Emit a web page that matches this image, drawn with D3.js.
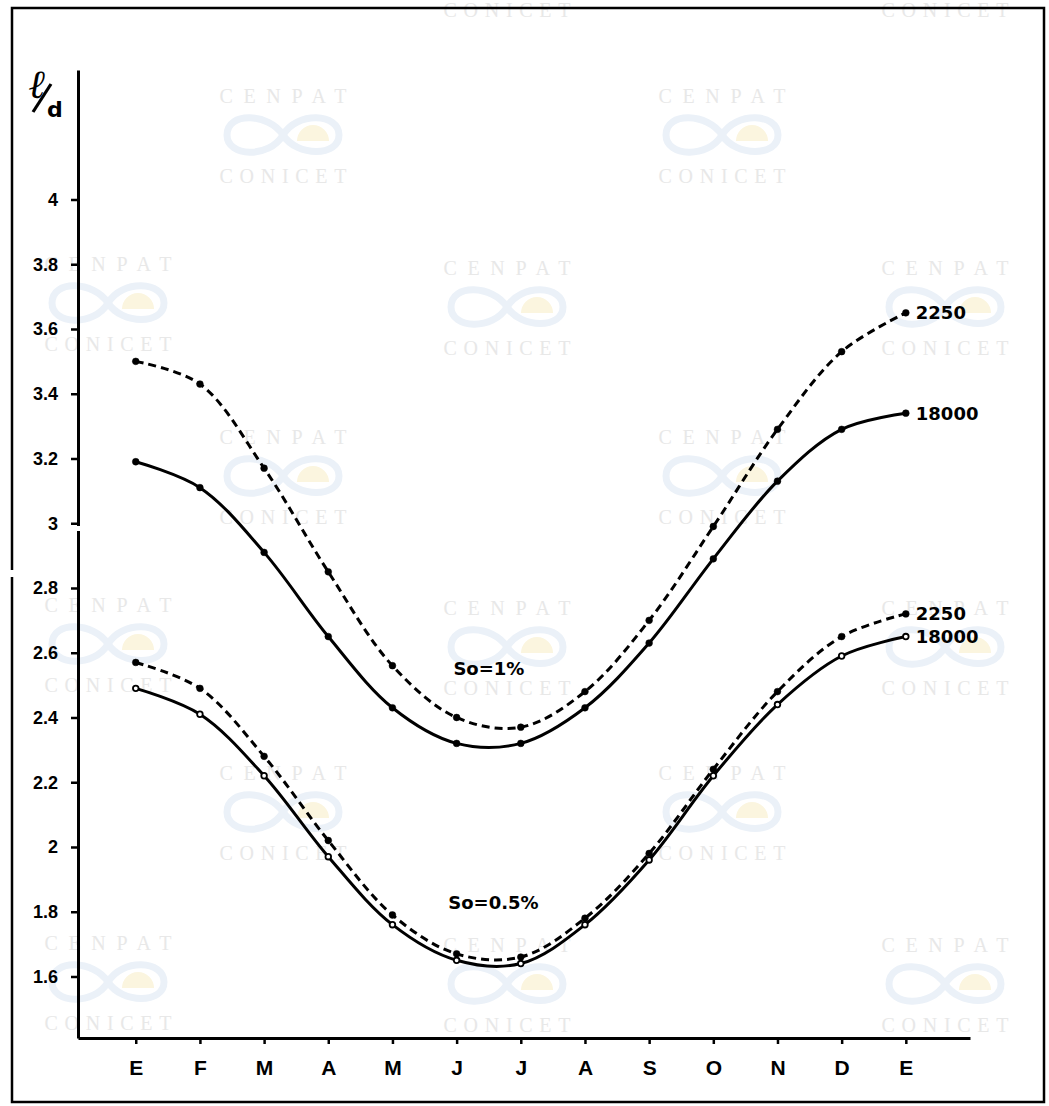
<!DOCTYPE html>
<html>
<head>
<meta charset="utf-8">
<script src="https://cdn.jsdelivr.net/npm/d3@7"></script>
<style>
  body { margin: 0; background: #fff; }
  svg { display: block; }
</style>
</head>
<body>
<div id="chart"></div>
<script>
// Months of the year (E = enero ... D = diciembre, back to E)
var months = ["E", "F", "M", "A", "M", "J", "J", "A", "S", "O", "N", "D", "E"];

// Y ticks and their printed labels
var yTicks = [1.6, 1.8, 2, 2.2, 2.4, 2.6, 2.8, 3, 3.2, 3.4, 3.6, 3.8, 4];
var yTickLabels = ["1.6", "1.8", "2", "2.2", "2.4", "2.6", "2.8", "3", "3.2", "3.4", "3.6", "3.8", "4"];

// So = 1%
var so1_2250 = [3.50, 3.43, 3.17, 2.85, 2.56, 2.40, 2.37, 2.48, 2.70, 2.99, 3.29, 3.53, 3.65];
var so1_18000 = [3.19, 3.11, 2.91, 2.65, 2.43, 2.32, 2.32, 2.43, 2.63, 2.89, 3.13, 3.29, 3.34];

// So = 0.5%
var so05_2250 = [2.57, 2.49, 2.28, 2.02, 1.79, 1.67, 1.66, 1.78, 1.98, 2.24, 2.48, 2.65, 2.72];
var so05_18000 = [2.49, 2.41, 2.22, 1.97, 1.76, 1.65, 1.64, 1.76, 1.96, 2.22, 2.44, 2.59, 2.65];

var seriesLabels = ["2250", "18000", "2250", "18000"];
var groupLabels = ["So=1%", "So=0.5%"];

var w = 1049, h = 1106;
var lettering = "'DejaVu Sans', 'Liberation Sans', sans-serif";

var svg = d3.select("#chart")
            .append("svg")
            .attr("width", w)
            .attr("height", h);

// Scales (month index on x, l/d on y)
var x = d3.scaleLinear().domain([-0.9, 13]).range([78, 970]);
var y = d3.scaleLinear().domain([1.41, 4.4]).range([1038, 70]);

// Faint scanner watermarks (CENPAT / CONICET)
var marks = [[507, -70], [945, -70], [283, 96], [722, 96], [108, 264], [507, 268], [945, 268],
             [283, 437], [722, 437], [108, 605], [507, 608], [945, 608],
             [283, 773], [722, 773], [108, 943], [507, 945], [945, 945]];

var wm = svg.append("g").attr("class", "watermarks");
marks.forEach(function(m) {
    var g = wm.append("g").attr("transform", `translate(${m[0]}, ${m[1]})`);
    g.append("text")
     .attr("text-anchor", "middle")
     .attr("y", 7)
     .attr("textLength", 127)
     .attr("lengthAdjust", "spacing")
     .style("font-family", "'Liberation Serif', serif")
     .style("font-size", "20px")
     .style("fill", "#e8e8e8")
     .text("CENPAT");
    g.append("path")
     .attr("transform", "translate(0, 39)")
     .attr("d", "M-56,0 C-56,-24 -14,-22 0,0 C14,22 56,22 56,0 C56,-22 14,-24 0,0 C-14,24 -56,22 -56,0")
     .attr("fill", "none")
     .attr("stroke", "#ebf1f8")
     .attr("stroke-width", 7);
    g.append("path")
     .attr("transform", "translate(30, 45)")
     .attr("d", "M-16,0 A16,16 0 0 1 16,0 Z")
     .attr("fill", "#fbf5df");
    g.append("text")
     .attr("text-anchor", "middle")
     .attr("y", 87)
     .attr("textLength", 127)
     .attr("lengthAdjust", "spacing")
     .style("font-family", "'Liberation Serif', serif")
     .style("font-size", "20px")
     .style("fill", "#e8e8e8")
     .text("CONICET");
});

// Page frame
svg.append("rect")
   .attr("x", 12).attr("y", 8)
   .attr("width", 1032).attr("height", 1094)
   .attr("fill", "none")
   .attr("stroke", "#000")
   .attr("stroke-width", 2.5);

// Axes
var yAxis = svg.append("g")
    .attr("transform", `translate(${x(-0.9)}, 0)`)
    .call(d3.axisLeft(y)
            .tickValues(yTicks)
            .tickFormat(function(d, i) { return yTickLabels[i]; })
            .tickSize(7)
            .tickPadding(13)
            .tickSizeOuter(0));

var xAxis = svg.append("g")
    .attr("transform", `translate(0, ${y(1.41)})`)
    .call(d3.axisBottom(x)
            .tickValues(d3.range(months.length))
            .tickFormat(function(i) { return months[i]; })
            .tickSize(6)
            .tickPadding(16)
            .tickSizeOuter(0));

[xAxis, yAxis].forEach(function(a) {
    a.select(".domain").attr("stroke-width", 3);
    a.selectAll(".tick line").attr("stroke-width", 2.5);
    a.selectAll("text")
     .style("font-family", "'Liberation Sans', Arial, sans-serif")
     .style("font-weight", "bold")
     .style("fill", "#000");
});
yAxis.selectAll("text").style("font-size", "18px");
xAxis.selectAll("text").style("font-size", "21px");

// small breaks in the scanned axis and frame
svg.append("rect").attr("x", 74).attr("y", 526).attr("width", 8).attr("height", 5).attr("fill", "#fff");
svg.append("rect").attr("x", 8).attr("y", 570).attr("width", 8).attr("height", 7).attr("fill", "#fff");

// Y axis title  l/d
svg.append("text")
   .attr("x", 29).attr("y", 98)
   .style("font-family", "'DejaVu Serif', serif")
   .style("font-style", "italic")
   .style("font-weight", "bold")
   .style("font-size", "40px")
   .text("ℓ");
svg.append("line")
   .attr("x1", 33).attr("y1", 112)
   .attr("x2", 51).attr("y2", 84)
   .attr("stroke", "#000")
   .attr("stroke-width", 3.2);
svg.append("text")
   .attr("x", 47).attr("y", 117)
   .style("font-family", lettering)
   .style("font-weight", "bold")
   .style("font-size", "22px")
   .text("d");

// Series table built from the arrays
var series = [
    { values: so1_2250, label: seriesLabels[0], dashed: true, open: false },
    { values: so1_18000, label: seriesLabels[1], dashed: false, open: false },
    { values: so05_2250, label: seriesLabels[2], dashed: true, open: false },
    { values: so05_18000, label: seriesLabels[3], dashed: false, open: true }
];

var line = d3.line()
    .x(function(d, i) { return x(i); })
    .y(function(d) { return y(d); })
    .curve(d3.curveCatmullRom.alpha(0.5));

var sg = svg.selectAll(".series")
    .data(series)
    .enter()
    .append("g")
    .attr("class", "series");

sg.append("path")
  .attr("d", function(d) { return line(d.values); })
  .attr("fill", "none")
  .attr("stroke", "#000")
  .attr("stroke-width", 3)
  .attr("stroke-dasharray", function(d) { return d.dashed ? "8,5" : null; });

sg.each(function(s) {
    d3.select(this).selectAll("circle")
      .data(s.values)
      .enter()
      .append("circle")
      .attr("cx", function(d, i) { return x(i); })
      .attr("cy", function(d) { return y(d); })
      .attr("r", s.open ? 2.8 : 3.4)
      .attr("fill", s.open ? "#fff" : "#000")
      .attr("stroke", "#000")
      .attr("stroke-width", s.open ? 1.8 : 0.5);
});

// End labels
sg.append("text")
  .attr("x", function(d) { return x(d.values.length - 1) + 10; })
  .attr("y", function(d) { return y(d.values[d.values.length - 1]); })
  .attr("dy", "0.36em")
  .style("font-family", lettering)
  .style("font-weight", "bold")
  .style("font-size", "18px")
  .text(function(d) { return d.label; });

// Group annotations
svg.append("text")
   .attr("x", x(4.95)).attr("y", y(2.55))
   .attr("dy", "0.36em")
   .style("font-family", lettering)
   .style("font-weight", "bold")
   .style("font-size", "18px")
   .text(groupLabels[0]);

svg.append("text")
   .attr("x", x(4.87)).attr("y", y(1.83))
   .attr("dy", "0.36em")
   .style("font-family", lettering)
   .style("font-weight", "bold")
   .style("font-size", "18px")
   .text(groupLabels[1]);
</script>
</body>
</html>
